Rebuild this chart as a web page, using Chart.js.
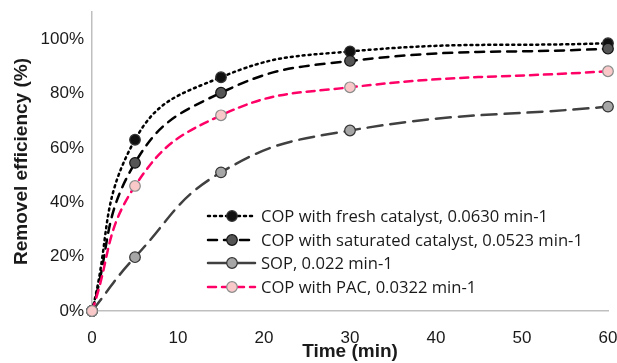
<!DOCTYPE html>
<html>
<head>
<meta charset="utf-8">
<script src="https://cdn.jsdelivr.net/npm/chart.js@4.4.1/dist/chart.umd.min.js"></script>
<style>
  html, body { margin: 0; padding: 0; background: #fff; }
  #wrap { width: 617px; height: 363px; }
</style>
</head>
<body>
<div id="wrap"><canvas id="grafico"></canvas></div>
<script>
const tiempos = [0, 5, 15, 30, 60];
const fresco = [0, 63, 86, 95.5, 98.5];
const saturado = [0, 54.5, 80.3, 92, 96.5];
const sop = [0, 19.8, 51, 66.4, 75.2];
const pac = [0, 46, 72, 82.3, 88.2];
const etiquetas = [
  "COP with fresh catalyst, 0.0630 min-1",
  "COP with saturated catalyst, 0.0523 min-1",
  "SOP, 0.022 min-1",
  "COP with PAC, 0.0322 min-1",
];

const ctx = document.getElementById("grafico").getContext("2d");

function serie(valores) {
  return valores.map((v, i) => ({ x: tiempos[i], y: v }));
}

// estilo de cada serie: linea, trazo, relleno del marcador
const estilos = [
  { color: "#000000", dash: [2, 4], width: 2.5, fill: "#111111", border: "#333333", order: 4, legendDash: [2, 4] },
  { color: "#000000", dash: [9, 7], width: 2.5, fill: "#555555", border: "#111111", order: 3, legendDash: [9, 7] },
  { color: "#404040", dash: [15, 8], width: 2.5, fill: "#a6a6a6", border: "#333333", order: 2, legendDash: [] },
  { color: "#ff0066", dash: [8, 6], width: 2.5, fill: "#f9c9c9", border: "#8c8c8c", order: 1, legendDash: [8, 6] },
];

const valores = [fresco, saturado, sop, pac];

const datos = {
  datasets: valores.map((v, i) => ({
    label: etiquetas[i],
    data: serie(v),
    borderColor: estilos[i].color,
    borderDash: estilos[i].dash,
    borderWidth: estilos[i].width,
    borderCapStyle: "round",
    pointBackgroundColor: estilos[i].fill,
    pointBorderColor: estilos[i].border,
    pointBorderWidth: 1.2,
    pointRadius: 5.3,
    tension: 0.45,
    order: estilos[i].order,
    clip: false,
  })),
};

// leyenda dentro del area del grafico
const leyenda = {
  id: "leyenda",
  afterDatasetsDraw(chart) {
    const c = chart.ctx;
    const x0 = 208, x1 = 255, xm = 232, xt = 261;
    const ys = [216, 240, 263, 287];
    c.save();
    etiquetas.forEach((txt, i) => {
      const e = estilos[i];
      const y = ys[i];
      c.beginPath();
      c.setLineDash(e.legendDash);
      c.lineCap = "round";
      c.strokeStyle = e.color;
      c.lineWidth = e.width;
      c.moveTo(x0, y);
      c.lineTo(x1, y);
      c.stroke();
      c.setLineDash([]);
      c.beginPath();
      c.arc(xm, y, 5.3, 0, Math.PI * 2);
      c.fillStyle = e.fill;
      c.fill();
      c.lineWidth = 1.2;
      c.strokeStyle = e.border;
      c.stroke();
      c.fillStyle = "#1a1a1a";
      c.font = "16.6px 'Open Sans'";
      c.textBaseline = "middle";
      c.fillText(txt, xt, y + 1);
    });
    c.restore();
  },
};

const fuenteEje = { family: "'Liberation Sans', Arial", size: 17 };
const fuenteTitulo = { family: "'Liberation Sans', Arial", size: 19, weight: "bold" };

const miGrafico = new Chart(ctx, {
  type: "line",
  data: datos,
  plugins: [leyenda],
  options: {
    responsive: true,
    maintainAspectRatio: false,
    animation: false,
    layout: { padding: { top: 12, right: 9, left: 0, bottom: 0 } },
    plugins: {
      legend: { display: false },
      tooltip: { enabled: false },
    },
    scales: {
      x: {
        type: "linear",
        min: 0,
        max: 60,
        grid: { display: false, drawTicks: false },
        border: { color: "#bfbfbf", width: 1.5 },
        ticks: {
          stepSize: 10,
          padding: 17,
          color: "#1a1a1a",
          font: fuenteEje,
        },
        title: {
          display: true,
          text: "Time (min)",
          color: "#1a1a1a",
          font: fuenteTitulo,
          padding: { top: 2, bottom: 0 },
        },
        afterFit(scale) {
          scale.height = 52;
          scale.paddingLeft = 0;
          scale.paddingRight = 0;
        },
      },
      y: {
        min: 0,
        max: 110,
        grid: { display: false, drawTicks: false },
        border: { color: "#bfbfbf", width: 1.5 },
        ticks: {
          stepSize: 20,
          includeBounds: false,
          padding: 8,
          color: "#1a1a1a",
          font: fuenteEje,
          callback: (v) => v + "%",
        },
        title: {
          display: true,
          text: "Removel efficiency (%)",
          color: "#1a1a1a",
          font: fuenteTitulo,
          padding: { top: 10, bottom: 4 },
        },
        afterFit(scale) {
          scale.width = 92;
          scale.paddingTop = 0;
          scale.paddingBottom = 0;
        },
      },
    },
  },
});
</script>
</body>
</html>
